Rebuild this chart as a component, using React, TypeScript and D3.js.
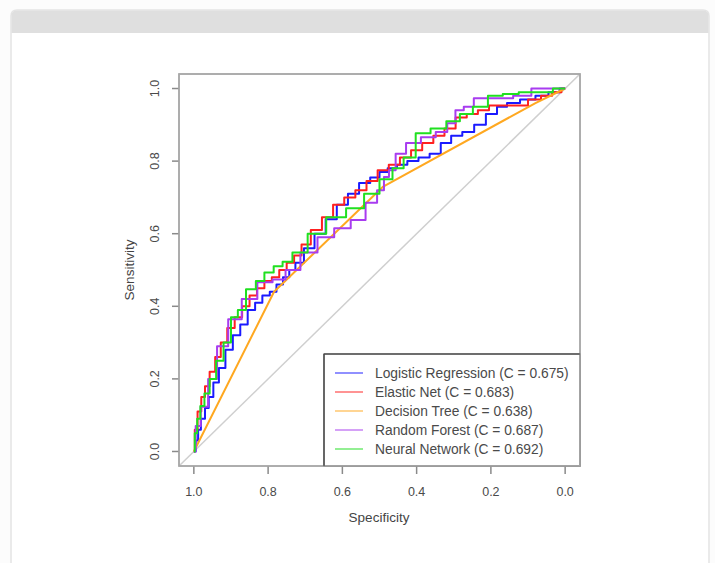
import React from "react";
import * as d3 from "d3";

// ROC curves (specificity, sensitivity)
const lrSpec = [1, 0.99, 0.987, 0.975, 0.965, 0.955, 0.94, 0.925, 0.905, 0.885, 0.865, 0.845, 0.825, 0.806, 0.785, 0.77, 0.75, 0.736, 0.717, 0.69, 0.66, 0.63, 0.6, 0.57, 0.54, 0.51, 0.49, 0.466, 0.44, 0.41, 0.38, 0.35, 0.32, 0.294, 0.26, 0.23, 0.197, 0.17, 0.143, 0.1, 0.06, 0.03, 0];
const lrSens = [0, 0.03, 0.06, 0.09, 0.12, 0.15, 0.19, 0.23, 0.28, 0.32, 0.35, 0.39, 0.41, 0.43, 0.44, 0.46, 0.48, 0.5, 0.52, 0.56, 0.6, 0.64, 0.68, 0.71, 0.74, 0.755, 0.77, 0.78, 0.79, 0.8, 0.81, 0.82, 0.85, 0.87, 0.88, 0.9, 0.93, 0.95, 0.96, 0.97, 0.98, 0.99, 1];

const enSpec = [1, 0.995, 0.985, 0.975, 0.965, 0.95, 0.935, 0.92, 0.9, 0.88, 0.86, 0.84, 0.82, 0.8, 0.78, 0.76, 0.74, 0.72, 0.7, 0.67, 0.64, 0.61, 0.58, 0.55, 0.52, 0.49, 0.46, 0.43, 0.4, 0.37, 0.34, 0.31, 0.28, 0.25, 0.22, 0.19, 0.16, 0.12, 0.08, 0.05, 0.02, 0];
const enSens = [0, 0.06, 0.11, 0.15, 0.18, 0.22, 0.26, 0.3, 0.34, 0.37, 0.4, 0.43, 0.45, 0.47, 0.48, 0.5, 0.52, 0.54, 0.57, 0.61, 0.645, 0.68, 0.7, 0.72, 0.745, 0.775, 0.79, 0.81, 0.83, 0.85, 0.87, 0.89, 0.92, 0.93, 0.94, 0.953, 0.953, 0.953, 0.97, 0.98, 0.99, 1];

const dtSpec = [1, 0.784, 0.49, 0.08, 0];
const dtSens = [0, 0.44, 0.73, 0.96, 1];

const rfSpec = [1, 0.99, 0.973, 0.95, 0.925, 0.89, 0.852, 0.806, 0.77, 0.736, 0.69, 0.644, 0.6, 0.555, 0.52, 0.493, 0.483, 0.466, 0.447, 0.41, 0.367, 0.33, 0.305, 0.286, 0.26, 0.232, 0.2, 0.16, 0.12, 0.062, 0.03, 0];
const rfSens = [0, 0.07, 0.123, 0.2, 0.29, 0.364, 0.42, 0.466, 0.474, 0.5, 0.548, 0.59, 0.615, 0.638, 0.685, 0.72, 0.756, 0.775, 0.82, 0.85, 0.866, 0.88, 0.904, 0.94, 0.95, 0.973, 0.973, 0.973, 0.98, 1, 1, 1];

const nnSpec = [1, 0.995, 0.987, 0.978, 0.965, 0.95, 0.93, 0.91, 0.89, 0.873, 0.846, 0.82, 0.8, 0.77, 0.752, 0.717, 0.67, 0.617, 0.563, 0.52, 0.48, 0.45, 0.42, 0.385, 0.34, 0.3, 0.267, 0.23, 0.186, 0.15, 0.1, 0.05, 0.016, 0];
const nnSens = [0, 0.05, 0.09, 0.125, 0.16, 0.2, 0.25, 0.3, 0.37, 0.39, 0.447, 0.47, 0.493, 0.51, 0.523, 0.548, 0.6, 0.645, 0.67, 0.71, 0.75, 0.78, 0.81, 0.877, 0.89, 0.91, 0.93, 0.95, 0.98, 0.985, 0.99, 0.99, 1, 1];

const modelNames = ["Logistic Regression", "Elastic Net", "Decision Tree", "Random Forest", "Neural Network"];
const modelAuc = ["0.675", "0.683", "0.638", "0.687", "0.692"];
const modelColors = ["#1a1aff", "#ff2020", "#ffa820", "#a83cf0", "#20e020"];
const specData = [lrSpec, enSpec, dtSpec, rfSpec, nnSpec];
const sensData = [lrSens, enSens, dtSens, rfSens, nnSens];
const ticks = [0, 0.2, 0.4, 0.6, 0.8, 1];

const W = 715;
const H = 563;

export default function App() {
  // R style: 4% extension on each side of [0,1]
  const x = d3.scaleLinear().domain([1.04, -0.04]).range([179, 580]);
  const y = d3.scaleLinear().domain([-0.04, 1.04]).range([466, 74]);

  const stepLine = d3
    .line<[number, number]>()
    .x((d) => x(d[0]))
    .y((d) => y(d[1]))
    .curve(d3.curveStep);
  const straight = d3
    .line<[number, number]>()
    .x((d) => x(d[0]))
    .y((d) => y(d[1]));

  const font = "'Liberation Sans', Arial, sans-serif";
  const axisCol = "#8a8a8a";
  const textCol = "#4a4a4a";

  return (
    <div style={{ position: "absolute", left: 0, top: 0 }}>
      <svg width={W} height={H} style={{ display: "block", background: "#fcfcfc" }}>
        {/* card */}
        <path
          d={`M11,${H + 2} V16 Q11,10 17,10 H703 Q709,10 709,16 V${H + 2}`}
          fill="#ffffff"
          stroke="#e4e4e4"
          strokeWidth={1.5}
        />
        <path d="M11.5,33 V16 Q11.5,10.5 17,10.5 H703 Q708.5,10.5 708.5,16 V33 Z" fill="#dfdfdf" />

        <defs>
          <clipPath id="plotClip">
            <rect x={179} y={74} width={401} height={392} />
          </clipPath>
        </defs>

        {/* diagonal reference */}
        <g clipPath="url(#plotClip)">
          <path
            d={straight([[1.04, -0.04], [-0.04, 1.04]]) || ""}
            stroke="#cfcfcf"
            strokeWidth={1.5}
            fill="none"
          />
        </g>

        {/* curves */}
        {specData.map((sp, i) => {
          const pts = sp.map((s, j) => [s, sensData[i][j]] as [number, number]);
          const gen = i === 2 ? straight : stepLine;
          return (
            <path
              key={modelNames[i]}
              d={gen(pts) || ""}
              stroke={modelColors[i]}
              strokeWidth={2}
              fill="none"
              strokeLinejoin="round"
            />
          );
        })}

        {/* box */}
        <rect x={179} y={74} width={401} height={392} fill="none" stroke="#a8a8a8" strokeWidth={1.5} />

        {/* x axis */}
        <g fontFamily={font} fontSize={12.5} fill={textCol}>
          {ticks.map((t) => (
            <g key={"x" + t}>
              <line x1={x(t)} x2={x(t)} y1={466} y2={474} stroke={axisCol} strokeWidth={1.5} />
              <text x={x(t)} y={496} textAnchor="middle">
                {t.toFixed(1)}
              </text>
            </g>
          ))}
          <text x={379} y={522} textAnchor="middle" fill="#444" fontSize={13.5}>
            Specificity
          </text>
        </g>

        {/* y axis */}
        <g fontFamily={font} fontSize={12.5} fill={textCol}>
          {ticks.map((t) => (
            <g key={"y" + t}>
              <line x1={172} x2={179} y1={y(t)} y2={y(t)} stroke={axisCol} strokeWidth={1.5} />
              <text transform={`translate(159,${y(t)}) rotate(-90)`} textAnchor="middle">
                {t.toFixed(1)}
              </text>
            </g>
          ))}
          <text transform={`translate(134,${y(0.5)}) rotate(-90)`} textAnchor="middle" fill="#444" fontSize={13.5}>
            Sensitivity
          </text>
        </g>

        {/* legend */}
        <rect x={324} y={354} width={256} height={112} fill="#ffffff" stroke="#4a4a4a" strokeWidth={1.2} />
        <rect x={179} y={74} width={401} height={392} fill="none" stroke="#a8a8a8" strokeWidth={1.5} />
        <line x1={324} x2={324} y1={354} y2={466} stroke="#4a4a4a" strokeWidth={1.2} />
        <line x1={324} x2={580} y1={354} y2={354} stroke="#4a4a4a" strokeWidth={1.2} />
        <g fontFamily={font} fontSize={13.8} fill={textCol}>
          {modelNames.map((n, i) => {
            const ly = 373 + i * 19;
            return (
              <g key={"lg" + n}>
                <line x1={335} x2={363} y1={ly} y2={ly} stroke={modelColors[i]} strokeWidth={1.2} opacity={0.8} />
                <text x={375} y={ly + 5}>
                  {`${n} (C = ${modelAuc[i]})`}
                </text>
              </g>
            );
          })}
        </g>
      </svg>
    </div>
  );
}
